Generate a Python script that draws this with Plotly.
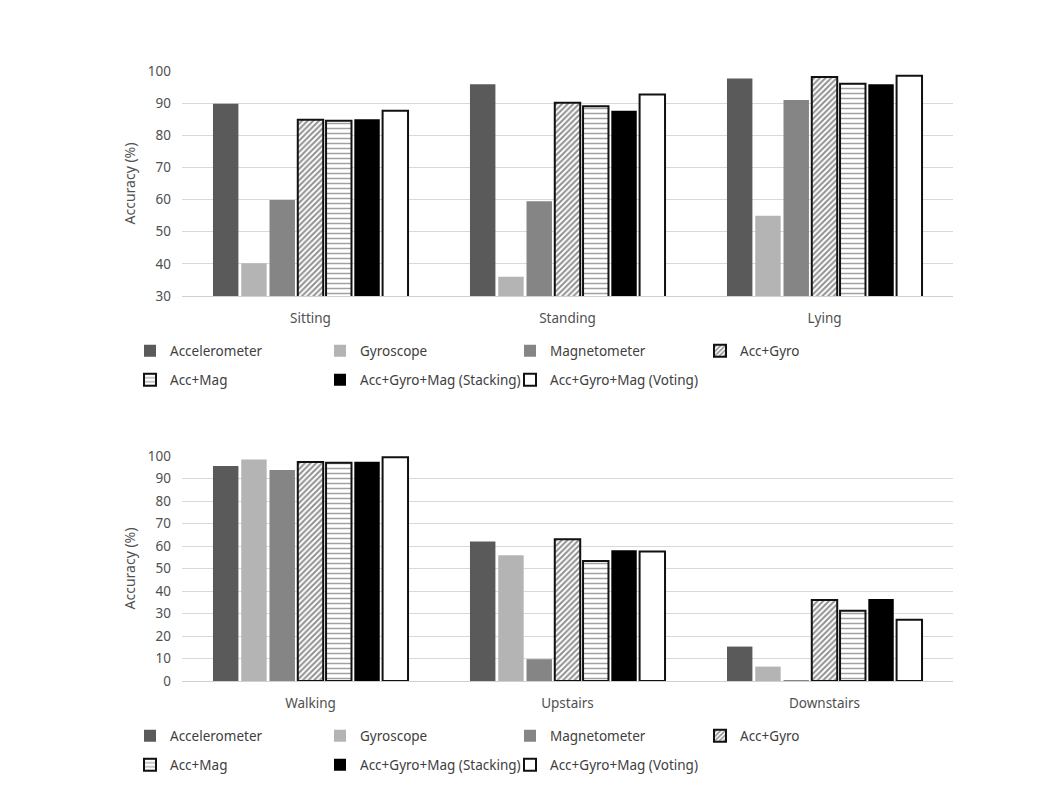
import plotly.graph_objects as go

# ---- data ----
top_categories = ["Sitting", "Standing", "Lying"]
bottom_categories = ["Walking", "Upstairs", "Downstairs"]
series_names = ["Accelerometer", "Gyroscope", "Magnetometer", "Acc+Gyro",
                "Acc+Mag", "Acc+Gyro+Mag (Stacking)", "Acc+Gyro+Mag (Voting)"]

accelerometer_top = [89.8, 95.9, 97.7]
gyroscope_top = [40.2, 36.0, 55.0]
magnetometer_top = [59.9, 59.5, 91.0]
acc_gyro_top = [84.8, 90.1, 98.1]
acc_mag_top = [84.5, 89.0, 96.0]
stacking_top = [85.0, 87.6, 95.9]
voting_top = [87.6, 92.7, 98.5]

accelerometer_bottom = [95.5, 62.0, 15.3]
gyroscope_bottom = [98.5, 55.9, 6.4]
magnetometer_bottom = [93.8, 9.7, 0.4]
acc_gyro_bottom = [97.3, 63.0, 36.0]
acc_mag_bottom = [97.0, 53.3, 31.2]
stacking_bottom = [97.5, 58.1, 36.4]
voting_bottom = [99.4, 57.5, 27.2]

top_values = [accelerometer_top, gyroscope_top, magnetometer_top, acc_gyro_top,
              acc_mag_top, stacking_top, voting_top]
bottom_values = [accelerometer_bottom, gyroscope_bottom, magnetometer_bottom,
                 acc_gyro_bottom, acc_mag_bottom, stacking_bottom, voting_bottom]

# ---- styles ----
styles = [
    dict(color="#5a5a5a", line=dict(width=0)),
    dict(color="#b4b4b4", line=dict(width=0)),
    dict(color="#858585", line=dict(width=0)),
    dict(color="white", line=dict(color="#111111", width=2),
         pattern=dict(shape="/", fgcolor="#222222", bgcolor="white", size=4, solidity=0.5)),
    dict(color="white", line=dict(color="#111111", width=2),
         pattern=dict(shape="-", fgcolor="#444444", bgcolor="white", size=5, solidity=0.3)),
    dict(color="#000000", line=dict(width=0)),
    dict(color="white", line=dict(color="#111111", width=2)),
]

FONT = "Noto Sans"
TXT = "#505050"

fig = go.Figure()

row1_legend = {"top": "legend", "bottom": "legend3"}
row2_legend = {"top": "legend2", "bottom": "legend4"}

for panel, cats, vals, xa, ya in [("top", top_categories, top_values, "x", "y"),
                                  ("bottom", bottom_categories, bottom_values, "x2", "y2")]:
    for i, (name, v) in enumerate(zip(series_names, vals)):
        fig.add_trace(go.Bar(
            x=cats, y=v, name=name, marker=styles[i],
            xaxis=xa, yaxis=ya,
            legend=row1_legend[panel] if i < 4 else row2_legend[panel],
            showlegend=True,
        ))

W, H = 1058, 796
OFF = 8  # page body margin


def px_x(p):
    return (p - OFF) / W


def px_y(p):
    return 1 - (p - OFF) / H


tickfont = dict(family=FONT, size=13.5, color=TXT)

xaxis_common = dict(showgrid=False, zeroline=False, ticks="", automargin=False,
                    showline=True, linecolor="#d0d0d0", linewidth=1,
                    ticklabelstandoff=10, tickfont=tickfont)
yaxis_common = dict(showline=False, zeroline=False, ticks="", dtick=10, automargin=False,
                    showgrid=True, gridcolor="#d9d9d9", gridwidth=1,
                    ticklabelstandoff=10, tickfont=tickfont,
                    title=dict(text="Accuracy (%)", font=dict(family=FONT, size=14, color=TXT),
                               standoff=8))

legend_common = dict(orientation="h", xanchor="left", yanchor="middle",
                     font=dict(family=FONT, size=13.5, color="#404040"),
                     entrywidth=145, entrywidthmode="pixels",
                     bgcolor="rgba(0,0,0,0)", itemclick=False, itemdoubleclick=False,
                     traceorder="normal")

lx = px_x(130)

fig.update_layout(
    width=W, height=H,
    margin=dict(l=0, r=0, t=0, b=0, autoexpand=False),
    paper_bgcolor="white", plot_bgcolor="white",
    barmode="group", bargap=0.23, bargroupgap=0.1,
    font=dict(family=FONT, color=TXT),
    xaxis=dict(domain=[px_x(182), px_x(953)], anchor="y", **xaxis_common),
    yaxis=dict(domain=[px_y(296), px_y(71)], anchor="x", range=[30, 100], **yaxis_common),
    xaxis2=dict(domain=[px_x(182), px_x(953)], anchor="y2", **xaxis_common),
    yaxis2=dict(domain=[px_y(681), px_y(456)], anchor="x2", range=[0, 100], **yaxis_common),
    legend=dict(x=lx, y=px_y(351), **legend_common),
    legend2=dict(x=lx, y=px_y(380), **legend_common),
    legend3=dict(x=lx, y=px_y(736), **legend_common),
    legend4=dict(x=lx, y=px_y(765), **legend_common),
)

fig.write_html("out.html")
